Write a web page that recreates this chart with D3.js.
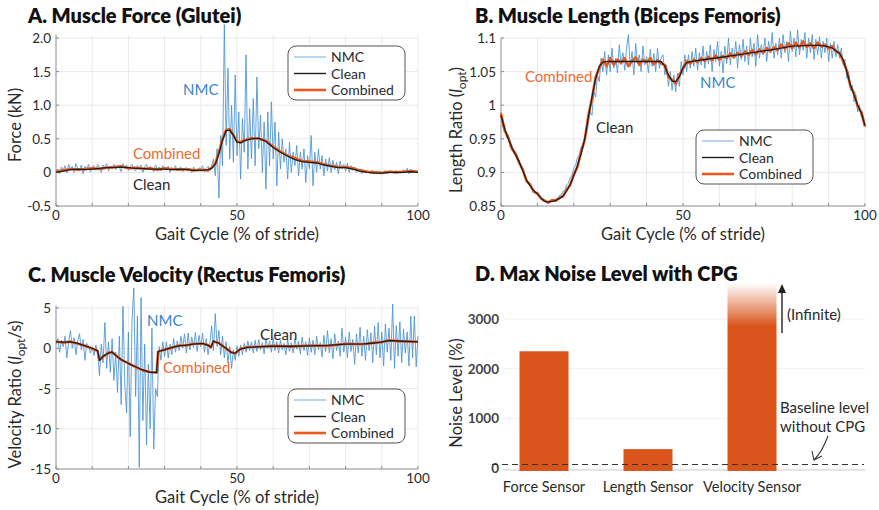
<!DOCTYPE html>
<html>
<head>
<meta charset="utf-8">
<script src="https://cdn.jsdelivr.net/npm/d3@7"></script>
<style>
  body { margin: 0; background: #fff; }
  svg { font-family: Lato, "Open Sans", sans-serif; }
</style>
</head>
<body>
<svg id="chart" width="879" height="510"></svg>
<script>
// ── Data ─────────────────────────────────────────────
const nmcStep = 0.5   // NMC traces are sampled every 0.5 % of the stride

// A. Muscle force (kN)
const forceNmc = [
  0.02, 0.05, -0.02, 0.08, 0.03, 0.10, -0.01, 0.12, 0.04, 0.09,
  0.00, 0.13, 0.06, 0.02, 0.11, -0.02, 0.09, 0.05, 0.12, 0.01,
  0.08, 0.10, 0.03, 0.12, 0.06, 0.00, 0.11, 0.07, 0.13, 0.02,
  0.09, 0.05, 0.12, 0.04, 0.10, 0.08, 0.01, 0.13, 0.06, 0.11,
  0.03, 0.09, 0.12, 0.05, 0.02, 0.10, 0.07, 0.11, 0.00, 0.08,
  0.12, 0.04, 0.09, 0.06, 0.01, 0.11, 0.05, 0.08, 0.02, 0.10,
  0.06, 0.03, 0.09, 0.00, 0.07, 0.04, 0.10, 0.02, 0.06, 0.08,
  0.01, 0.05, 0.07, 0.03, 0.06, 0.00, 0.08, 0.04, 0.02, 0.07,
  0.05, 0.10, 0.01, 0.06, 0.09, 0.03,
  0.10, 0.20, -0.05, 0.35, -0.38, 0.55, 0.10, 2.20, 0.40, 1.55, 0.20, 1.00, 0.15, 1.45,
  0.25, 0.90, -0.10, 0.80, 0.30, 1.75, 0.05, 0.95, 0.20, 1.10,
  0.10, 1.42, 0.35, 0.85, 0.00, 0.75, -0.25, 0.90, 0.10, 1.05, 0.20,
  0.75, -0.20, 0.60, 0.05, 0.50, 0.15, 0.35, -0.10, 0.45, 0.00,
  0.30, 0.10, 0.40, -0.05, 0.30, 0.05, 0.35, -0.15, 0.25, 0.05,
  0.55, -0.20, 0.30, 0.00, 0.35, 0.05, 0.25, -0.05, 0.20, 0.02,
  0.22, 0.00, 0.18, 0.04, 0.15, -0.02, 0.17, 0.05, 0.12, 0.02,
  0.14, 0.00, 0.10, 0.03, 0.08, 0.00, 0.05, 0.02, -0.02, 0.04,
  0.00, 0.02, -0.01, 0.01, 0.03, -0.02, 0.01, 0.00, 0.02, -0.01,
  0.01, 0.03, -0.02, 0.00, 0.02, 0.01, -0.01, 0.03, 0.00, 0.02,
  -0.01, 0.04, 0.00, 0.06, -0.02, 0.05, 0.01, 0.03, 0.00, 0.02
]
const forceX = [0, 2, 4, 6, 8, 10, 12, 14, 16, 18, 20, 22, 24, 26, 28, 30, 32, 34, 36, 38, 40, 42,
  43, 44, 45, 46, 47, 48, 49, 50, 51, 52,
  54, 56, 58, 60, 62, 64, 66, 68, 70, 72, 74, 76, 78, 80, 82, 84, 86, 88, 90, 92, 94, 96, 98, 100]
const forceClean = [0.00, 0.02, 0.04, 0.05, 0.04, 0.05, 0.06, 0.07, 0.07, 0.08,
  0.07, 0.06, 0.06, 0.05, 0.05, 0.05, 0.04, 0.05, 0.04, 0.03, 0.03, 0.04,
  0.06, 0.12, 0.28, 0.48, 0.62, 0.63, 0.55, 0.45, 0.44, 0.47,
  0.50, 0.51, 0.46, 0.37, 0.30, 0.24, 0.19, 0.16, 0.15, 0.14,
  0.11, 0.09, 0.07, 0.07, 0.05, 0.02, 0.00, -0.01, -0.01, 0.00, 0.00, 0.00, 0.01, 0.00]
const forceCombined = [0.01, 0.03, 0.05, 0.04, 0.05, 0.06, 0.05, 0.07, 0.08, 0.09,
  0.06, 0.07, 0.05, 0.06, 0.04, 0.06, 0.05, 0.04, 0.05, 0.03, 0.04, 0.03,
  0.07, 0.13, 0.30, 0.50, 0.63, 0.64, 0.56, 0.46, 0.45, 0.48,
  0.51, 0.50, 0.47, 0.38, 0.31, 0.25, 0.21, 0.17, 0.16, 0.15,
  0.12, 0.10, 0.08, 0.08, 0.06, 0.03, 0.01, 0.00, -0.01, 0.01, 0.00, 0.01, 0.02, 0.01]

// B. Muscle length (l_opt)
const lengthNmc = [
  0.990, 0.968, 0.972, 0.952, 0.955, 0.938, 0.940, 0.928, 0.929, 0.918,
  0.918, 0.906, 0.904, 0.892, 0.891, 0.882, 0.881, 0.875, 0.874, 0.868,
  0.869, 0.863, 0.863, 0.857, 0.858, 0.855, 0.857, 0.856, 0.859, 0.857,
  0.860, 0.860, 0.866, 0.866, 0.872, 0.873, 0.881, 0.884, 0.892, 0.896,
  0.906, 0.911, 0.922, 0.926, 0.938, 0.942, 0.952, 0.956, 0.972,
  0.990, 0.985, 1.020, 1.012, 1.045, 1.035, 1.070, 1.050,
  1.080, 1.045, 1.075, 1.050, 1.085, 1.055, 1.070, 1.048, 1.090, 1.060,
  1.078, 1.052, 1.085, 1.105, 1.058, 1.080, 1.045, 1.092, 1.062, 1.075,
  1.050, 1.088, 1.060, 1.072, 1.048, 1.083, 1.058, 1.077, 1.050, 1.085,
  1.055, 1.070,
  1.075, 1.045, 1.060, 1.028, 1.050, 1.022, 1.045, 1.020, 1.048, 1.028, 1.065, 1.045, 1.075, 1.050,
  1.075, 1.055, 1.080, 1.058, 1.085, 1.052, 1.078, 1.060, 1.088, 1.055,
  1.080, 1.062, 1.090, 1.050, 1.083, 1.065, 1.095, 1.058, 1.080, 1.048,
  1.088, 1.062, 1.100, 1.060, 1.085, 1.070, 1.095, 1.055, 1.090, 1.068,
  1.098, 1.065, 1.088, 1.060, 1.100, 1.072, 1.092, 1.058, 1.105, 1.070,
  1.090, 1.075, 1.100, 1.065, 1.095, 1.078, 1.108, 1.070, 1.092, 1.075,
  1.100, 1.070, 1.105, 1.078, 1.095, 1.065, 1.110, 1.080, 1.100, 1.072,
  1.112, 1.075, 1.098, 1.082, 1.108, 1.070, 1.100, 1.078, 1.105, 1.068,
  1.098, 1.075, 1.102, 1.070, 1.095, 1.078, 1.100, 1.065, 1.092, 1.070,
  1.095, 1.072,
  1.090, 1.070, 1.085, 1.060, 1.068, 1.040, 1.050, 1.022, 1.030, 1.005, 1.015, 0.990, 1.000, 0.982, 0.985, 0.968
]
const lengthX = [0, 1, 2, 3, 4, 5, 6, 7, 8, 9, 10, 11, 12, 13, 14, 15, 16, 17, 18, 19, 20,
  21, 22, 23, 24, 25, 26, 27, 28, 29, 30, 35, 40, 44, 45, 46, 47, 48, 49, 50, 51, 52,
  56, 60, 65, 70, 75, 80, 85, 88, 90, 91, 92, 93, 94, 95, 96, 97, 98, 99, 100]
const lengthClean = [0.985, 0.965, 0.950, 0.937, 0.926, 0.916, 0.902, 0.889, 0.880, 0.873, 0.868,
  0.862, 0.857, 0.856, 0.857, 0.858, 0.861, 0.865, 0.872, 0.882, 0.895,
  0.910, 0.928, 0.950, 0.982, 1.012, 1.040, 1.058, 1.064, 1.065, 1.065, 1.065, 1.065, 1.065,
  1.058, 1.045, 1.036, 1.035, 1.042, 1.056, 1.063, 1.065,
  1.068, 1.071, 1.075, 1.079, 1.083, 1.088, 1.089, 1.089, 1.087, 1.085, 1.081, 1.077,
  1.068, 1.050, 1.030, 1.015, 1.000, 0.988, 0.970]
const lengthCombinedX = d3.range(0, 101)   // every 1 % of stride
const lengthCombined = [
  0.988, 0.962, 0.952, 0.935, 0.928, 0.914, 0.904, 0.887, 0.882, 0.871,
  0.869, 0.861, 0.858, 0.855, 0.859, 0.858, 0.862, 0.864, 0.874, 0.881,
  0.897, 0.908, 0.930, 0.948, 0.985, 1.010, 1.042, 1.055, 1.068, 1.058,
  1.070, 1.060, 1.068, 1.063, 1.070, 1.058, 1.066, 1.071, 1.060, 1.068,
  1.064, 1.070, 1.061, 1.067, 1.062, 1.060, 1.042, 1.038, 1.032, 1.045,
  1.054, 1.066, 1.062, 1.068, 1.064, 1.070, 1.066, 1.072, 1.067, 1.074,
  1.068, 1.073, 1.070, 1.077, 1.071, 1.078, 1.073, 1.080, 1.075, 1.082,
  1.076, 1.083, 1.078, 1.085, 1.080, 1.086, 1.082, 1.090, 1.084, 1.092,
  1.085, 1.093, 1.086, 1.095, 1.087, 1.092, 1.085, 1.093, 1.087, 1.090,
  1.084, 1.088, 1.080, 1.078, 1.065, 1.052, 1.028, 1.018, 0.998, 0.990,
  0.968
]

// C. Muscle velocity (l_opt/s)
const velocityNmc = [
  0.5, 1.2, -0.5, 1.0, 0.2, 1.5, -1.2, 0.8, 2.2, 0.0, 1.3, -0.8,
  0.9, 1.8, -0.2, 1.1, -1.5, 0.6, 0.3, -0.6, 0.2, -0.9, 0.4, -0.5,
  -3.4, 0.5, -1.8, 3.2, -2.5, 0.8, -3.0, 1.2, -4.0, -0.5,
  -5.5, 1.5, -7.0, 5.2, -4.5, -8.0, 2.0, -11.0, 3.5, 7.5,
  -6.0, 4.0, -14.8, 6.3, -9.0, 0.5, -12.0, -2.0, -10.0, 2.5,
  -12.5, -5.0, -6.0, 0.2, -1.5, 0.8, -1.0,
  0.8, -1.2, 0.5, -0.8, 1.2, -0.5, 0.9, -0.3, 1.5, 0.0,
  1.8, -0.6, 1.9, -0.2, 1.4, 0.1, 2.0, -0.4, 1.6, 0.2,
  1.9, -0.5, 1.2, -0.8, 0.6, 2.8, -0.3, 4.3, 0.2, 2.2,
  -0.8, 1.5, -1.2, 0.8, -1.8, 0.2, -2.5, -0.2, -1.5, 0.3,
  -1.0, 0.4, -0.8, 0.6, -0.5, 0.9, -0.3, 0.8, -0.6, 1.0,
  -0.4, 1.1, -0.2, 0.7, -0.7, 1.2, 0.0, 0.9, -0.5, 1.3,
  -0.3, 0.8, -0.6, 1.0, -0.2, 0.6, -0.8, 1.1, -0.4, 0.7,
  -0.6, 1.2, -0.1, 0.9, -0.7, 1.4, -0.3, 0.8, -0.9, 1.3,
  -0.5, 1.0, -0.8, 1.5, -0.2, 0.7, -1.1, 1.6, -0.4, 2.2,
  -0.6, 1.2, -1.3, 1.8, -0.3, 0.9, -1.0, 2.5, -0.5, 1.4,
  -1.2, 2.0, -0.4, 1.1, -2.0, 1.8, -0.6, 2.6, -1.0, 1.5,
  -1.5, 2.3, -0.3, 1.9, -1.8, 2.8, -0.8, 3.2, -1.2, 2.0,
  -2.2, 3.0, -0.5, 2.5, -1.5, 5.5, -2.5, 2.8, -1.0, 3.3,
  -1.8, 2.4, -0.6, 2.0, -2.2, 4.0, -1.2, 4.0, -2.3, 1.5
]
const velocityX = [0, 2, 4, 6, 8, 10, 11.5, 12, 13, 14.5, 15.5, 16.5, 18, 20, 22, 24, 26,
  27.8, 28.2, 30, 32, 34, 36, 38, 40.5, 42, 42.8, 43.5, 45, 47, 48.5, 49.5,
  51, 53, 56, 60, 65, 70, 75, 80, 85, 88, 90, 92, 95, 100]
const velocityClean = [0.8, 0.75, 0.8, 0.6, 0.3, 0.0, -0.3, -1.5, -1.0, -0.6, -0.45, -0.9,
  -1.4, -1.9, -2.3, -2.7, -3.0, -3.0, -0.4, -0.2, 0.1, 0.3, 0.4, 0.5,
  0.6, 0.35, 0.15, 0.9, 0.6, 0.0, -0.55, -0.6,
  -0.1, 0.1, 0.2, 0.25, 0.25, 0.3, 0.35, 0.5, 0.55, 0.65, 0.8, 0.95, 0.9, 0.8]
const velocityCombined = [0.85, 0.7, 0.82, 0.58, 0.32, -0.05, -0.35, -1.45, -1.05, -0.55, -0.5, -0.85,
  -1.45, -1.85, -2.35, -2.75, -2.95, -3.05, -0.45, -0.15, 0.05, 0.35, 0.35, 0.55,
  0.55, 0.4, 0.1, 0.85, 0.65, -0.05, -0.5, -0.65,
  -0.05, 0.15, 0.15, 0.3, 0.2, 0.35, 0.3, 0.55, 0.5, 0.7, 0.75, 1.0, 0.85, 0.8]

// D. Max noise level with CPG (%)
const sensors = ["Force Sensor", "Length Sensor", "Velocity Sensor"]
const noiseLevels = [2350, 380, Infinity]
const baselineNoise = 70
const noiseTicks = [0, 1000, 2000, 3000]

// ── Styling ──────────────────────────────────────────
const BLUE = "#4a93d2", BLUE_TXT = "#3a86c8", BLACK = "#1e1e1e", ORANGE = "#ea5a1e", ORANGE_TXT = "#ec6a33"
const BAR = "#d9541a", GRID = "#e9e9e9", AXIS = "#8c8c8c", TXT = "#2a2a2a"
const TITLE_SIZE = 20, LABEL_SIZE = 16.5, TICK_SIZE = 13.5

const svg = d3.select("#chart")
svg.append("rect").attr("width", 879).attr("height", 510).attr("fill", "#fff")

function text(g, x, y, str, opts = {}) {
  return g.append("text").attr("x", x).attr("y", y).text(str)
    .attr("font-size", opts.size || 14)
    .attr("fill", opts.fill || TXT)
    .attr("font-weight", opts.weight || 400)
    .attr("text-anchor", opts.anchor || "start")
}

function legend(g, x, y) {
  g.append("rect").attr("x", x).attr("y", y).attr("width", 117).attr("height", 54)
    .attr("rx", 8).attr("fill", "#fff").attr("stroke", "#555").attr("stroke-width", 1)
  const rows = [["NMC", "#8fc0ea", 1.3], ["Clean", BLACK, 1.4], ["Combined", ORANGE, 2.6]]
  rows.forEach(([name, col, w], i) => {
    const ry = y + 11 + i * 16.5
    g.append("line").attr("x1", x + 6).attr("x2", x + 38).attr("y1", ry).attr("y2", ry)
      .attr("stroke", col).attr("stroke-width", w)
    text(g, x + 43, ry + 5, name, { size: 14 })
  })
}

function linePanel(p) {
  const g = svg.append("g")
  const x = d3.scaleLinear([0, 100], [p.left, p.right])
  const y = d3.scaleLinear([p.yTicks[0], p.yTicks[p.yTicks.length - 1]], [p.bottom, p.top])
  const gridTop = y(p.yMax)

  // grid
  g.selectAll("line.vg").data(d3.range(10, 101, 10)).join("line")
    .attr("x1", d => x(d)).attr("x2", d => x(d)).attr("y1", gridTop).attr("y2", p.bottom)
    .attr("stroke", GRID)
  g.selectAll("line.hg").data(p.yTicks.slice(1)).join("line")
    .attr("x1", p.left).attr("x2", p.right).attr("y1", d => y(d)).attr("y2", d => y(d))
    .attr("stroke", GRID)

  // axes
  g.append("line").attr("x1", p.left).attr("x2", p.left).attr("y1", gridTop).attr("y2", p.bottom).attr("stroke", AXIS)
  g.append("line").attr("x1", p.left).attr("x2", p.right).attr("y1", p.bottom).attr("y2", p.bottom).attr("stroke", AXIS)
  g.selectAll("line.xt").data(d3.range(0, 101, 10)).join("line")
    .attr("x1", d => x(d)).attr("x2", d => x(d)).attr("y1", p.bottom).attr("y2", p.bottom - 3).attr("stroke", AXIS)
  g.selectAll("line.yt").data(p.yTicks).join("line")
    .attr("x1", p.left).attr("x2", p.left + 3).attr("y1", d => y(d)).attr("y2", d => y(d)).attr("stroke", AXIS)

  ;[0, 50, 100].forEach(v => text(g, x(v), p.bottom + 14, v, { size: TICK_SIZE, anchor: "middle" }))
  p.yTicks.forEach((v, i) => text(g, p.left - 5, y(v) + 5, p.yTickLabels[i], { size: TICK_SIZE, anchor: "end" }))

  // series
  const line = d3.line().x(d => x(d[0])).y(d => y(d[1]))
  const nmc = p.nmc.map((v, i) => [i * nmcStep, v])
  g.append("path").attr("d", line(nmc)).attr("fill", "none").attr("stroke", BLUE)
    .attr("stroke-width", 1).attr("opacity", 0.85)
  g.append("path").attr("d", line(p.combX.map((v, i) => [v, p.comb[i]]))).attr("fill", "none")
    .attr("stroke", ORANGE).attr("stroke-width", 2.6).attr("stroke-linejoin", "round")
  g.append("path").attr("d", line(p.cleanX.map((v, i) => [v, p.clean[i]]))).attr("fill", "none")
    .attr("stroke", BLACK).attr("stroke-width", 1.3).attr("stroke-linejoin", "round")

  // titles and labels
  text(g, p.titleX, p.titleY, p.title, { size: TITLE_SIZE, weight: 800, fill: "#111" })
  text(g, (p.left + p.right) / 2, p.bottom + 34, "Gait Cycle (% of stride)", { size: LABEL_SIZE, anchor: "middle" })
  const yl = g.append("text").attr("transform", `translate(${p.yLabelX},${(p.top + p.bottom) / 2 + p.yLabelDy}) rotate(-90)`)
    .attr("text-anchor", "middle").attr("font-size", LABEL_SIZE).attr("fill", TXT)
  p.yLabel(yl)

  p.notes.forEach(n => text(g, n[1], n[2], n[0], { size: 15, fill: n[3] }))
  legend(g, p.legendX, p.legendY)
  return g
}

// A
linePanel({
  left: 56, right: 418, top: 38, bottom: 206, yMax: 2.05,
  yTicks: [-0.5, 0, 0.5, 1.0, 1.5, 2.0], yTickLabels: ["-0.5", "0", "0.5", "1.0", "1.5", "2.0"],
  nmc: forceNmc, cleanX: forceX, clean: forceClean, combX: forceX, comb: forceCombined,
  title: "A. Muscle Force (Glutei)", titleX: 28, titleY: 23,
  yLabelX: 21, yLabelDy: 3,
  yLabel: t => t.text("Force (kN)"),
  notes: [["NMC", 183, 95, BLUE_TXT], ["Combined", 133, 159, ORANGE_TXT], ["Clean", 133, 190, TXT]],
  legendX: 288, legendY: 46
})

// B
linePanel({
  left: 501, right: 865, top: 38, bottom: 206, yMax: 1.1,
  yTicks: [0.85, 0.9, 0.95, 1, 1.05, 1.1], yTickLabels: ["0.85", "0.9", "0.95", "1", "1.05", "1.1"],
  nmc: lengthNmc, cleanX: lengthX, clean: lengthClean, combX: lengthCombinedX, comb: lengthCombined,
  title: "B. Muscle Length (Biceps Femoris)", titleX: 475, titleY: 23,
  yLabelX: 462, yLabelDy: 8,
  yLabel: t => {
    t.append("tspan").text("Length Ratio (")
    t.append("tspan").attr("font-style", "italic").text("l")
    t.append("tspan").attr("font-size", 12).attr("dy", 4).text("opt")
    t.append("tspan").attr("dy", -4).text(")")
  },
  notes: [["Combined", 525, 82, ORANGE_TXT], ["NMC", 700, 88, BLUE_TXT], ["Clean", 596, 133, TXT]],
  legendX: 696, legendY: 130
})

// C
linePanel({
  left: 56, right: 418, top: 308, bottom: 469, yMax: 5.3,
  yTicks: [-15, -10, -5, 0, 5], yTickLabels: ["-15", "-10", "-5", "0", "5"],
  nmc: velocityNmc, cleanX: velocityX, clean: velocityClean, combX: velocityX, comb: velocityCombined,
  title: "C. Muscle Velocity (Rectus Femoris)", titleX: 28, titleY: 282,
  yLabelX: 21, yLabelDy: 6,
  yLabel: t => {
    t.append("tspan").text("Velocity Ratio (")
    t.append("tspan").attr("font-style", "italic").text("l")
    t.append("tspan").attr("font-size", 12).attr("dy", 4).text("opt")
    t.append("tspan").attr("dy", -4).text("/s)")
  },
  notes: [["NMC", 147, 326, BLUE_TXT], ["Clean", 260, 340, TXT], ["Combined", 163, 373, ORANGE_TXT]],
  legendX: 288, legendY: 389
})

// ── D. bar chart ─────────────────────────────────────
;(function () {
  const g = svg.append("g")
  const y = d3.scaleLinear([0, 3000], [468, 319])
  const x = d3.scalePoint(sensors, [544, 752])
  const bw = 49
  const capTop = 3720   // drawn height for the infinite bar

  const defs = svg.append("defs")
  const grad = defs.append("linearGradient").attr("id", "fade")
    .attr("gradientUnits", "userSpaceOnUse").attr("x1", 0).attr("x2", 0)
    .attr("y1", y(capTop)).attr("y2", y(2850))
  grad.append("stop").attr("offset", 0).attr("stop-color", BAR).attr("stop-opacity", 0)
  grad.append("stop").attr("offset", 0.45).attr("stop-color", BAR).attr("stop-opacity", 0.45)
  grad.append("stop").attr("offset", 1).attr("stop-color", BAR).attr("stop-opacity", 1)

  g.selectAll("line.hg").data(noiseTicks.slice(1)).join("line")
    .attr("x1", 503).attr("x2", 865).attr("y1", d => y(d)).attr("y2", d => y(d))
    .attr("stroke", "#efefef")
  g.append("line").attr("x1", 503).attr("x2", 865).attr("y1", y(0) + 2).attr("y2", y(0) + 2)
    .attr("stroke", "#c8c8c8")

  noiseTicks.forEach(v => text(g, 499, y(v) + 5, v, { size: 13.5, weight: 700, anchor: "end", fill: "#444" }))

  g.selectAll("rect.bar").data(sensors).join("rect")
    .attr("x", d => x(d) - bw / 2).attr("width", bw)
    .attr("y", (d, i) => y(isFinite(noiseLevels[i]) ? noiseLevels[i] : capTop))
    .attr("height", (d, i) => y(-60) - y(isFinite(noiseLevels[i]) ? noiseLevels[i] : capTop))
    .attr("fill", (d, i) => isFinite(noiseLevels[i]) ? BAR : "url(#fade)")

  g.append("line").attr("x1", 492).attr("x2", 864).attr("y1", y(baselineNoise)).attr("y2", y(baselineNoise))
    .attr("stroke", "#333").attr("stroke-width", 1.1).attr("stroke-dasharray", "6,4")

  sensors.forEach(s => text(g, x(s), 492, s, { size: 14.5, anchor: "middle" }))

  text(g, 475, 281, "D. Max Noise Level with CPG", { size: TITLE_SIZE, weight: 800, fill: "#111" })
  g.append("text").attr("transform", "translate(462,393) rotate(-90)").attr("text-anchor", "middle")
    .attr("font-size", LABEL_SIZE).attr("fill", TXT).text("Noise Level (%)")

  // infinite arrow
  g.append("line").attr("x1", 782).attr("x2", 782).attr("y1", 333).attr("y2", 290)
    .attr("stroke", "#222").attr("stroke-width", 1.4)
  g.append("path").attr("d", "M782,284 L778,293 L786,293 Z").attr("fill", "#222")
  text(g, 787, 320, "(Infinite)", { size: 15 })

  text(g, 780, 413, "Baseline level", { size: 15 })
  text(g, 780, 432, "without CPG", { size: 15 })
  g.append("path").attr("d", "M828,436 Q822,452 814,460").attr("fill", "none").attr("stroke", "#333").attr("stroke-width", 1.1)
  g.append("path").attr("d", "M812,451 L814,460 L822,456").attr("fill", "none").attr("stroke", "#333").attr("stroke-width", 1.1)
})()
</script>
</body>
</html>
